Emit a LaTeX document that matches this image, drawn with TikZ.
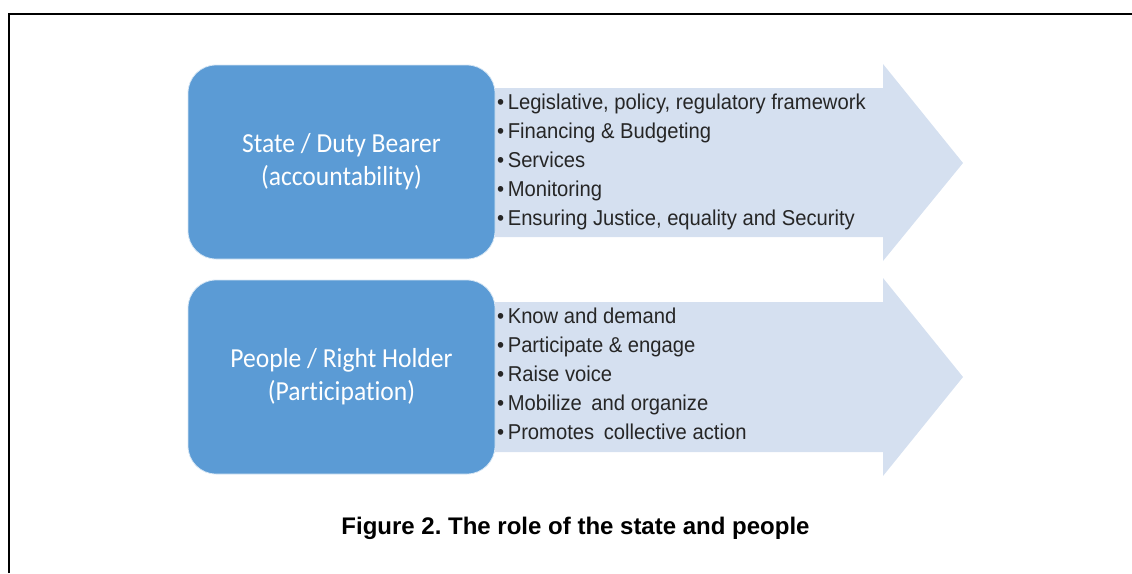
\documentclass[tikz,border=0pt]{standalone}
\usepackage{fontspec}
\setmainfont{Liberation Sans}
\newfontfamily\boxfont[Ligatures=NoCommon,FakeStretch=0.93]{Carlito}
\newfontfamily\itemfont[FakeStretch=0.94]{Liberation Sans}
\definecolor{boxblue}{HTML}{5B9BD5}
\definecolor{arrowblue}{HTML}{D5E0F0}
\definecolor{itemgray}{HTML}{262626}
\tikzset{
  rolebox/.style={rounded corners=28pt, fill=boxblue, draw=white!75!boxblue, line width=0.8pt,
    minimum width=307pt, minimum height=194pt, text=white, align=center,
    font=\boxfont\fontsize{27.5}{33}\selectfont},
  rolearrow/.style={fill=arrowblue},
  itemlist/.style={anchor=west, align=left, inner sep=0pt, text=itemgray,
    font=\itemfont\fontsize{21.5}{29}\selectfont},
}
\newcommand{\itm}{\textbullet\hspace{3.5pt}}
\begin{document}
\frenchspacing
\begin{tikzpicture}[x=1pt,y=-1pt]
    \useasboundingbox (0,0) rectangle (1132,573);
    \draw [line width=1.8pt] (8.7,573) -- (8.7,14) -- (1132,14);
    % arrows behind the boxes
    \fill [rolearrow] (490,88) -- (883,88) -- (883,64) -- (963,163) -- (883,261) -- (883,237) -- (490,237) -- cycle;
    \fill [rolearrow] (490,302) -- (883,302) -- (883,278) -- (963,377) -- (883,476) -- (883,452) -- (490,452) -- cycle;
    \node [rolebox] (state) at (341.5,162) {State / Duty Bearer\\(accountability)};
    \node [rolebox] (people) at (341.5,377) {People / Right Holder\\(Participation)};
    \node [itemlist] (stateitems) at (497,161.5) {\itm Legislative, policy, regulatory framework\\
        \itm Financing \& Budgeting\\
        \itm Services\\
        \itm Monitoring\\
        \itm Ensuring Justice, equality and Security};
    \node [itemlist] (peopleitems) at (497,374) {\itm Know and demand\\
        \itm Participate \& engage\\
        \itm Raise voice\\
        \itm Mobilize\hspace{4pt} and organize\\
        \itm Promotes\hspace{4pt} collective action};
    \node [font=\bfseries\fontsize{24}{28}\selectfont] (caption) at (575.5,528) {Figure 2. The role of the state and people};
\end{tikzpicture}
\end{document}
